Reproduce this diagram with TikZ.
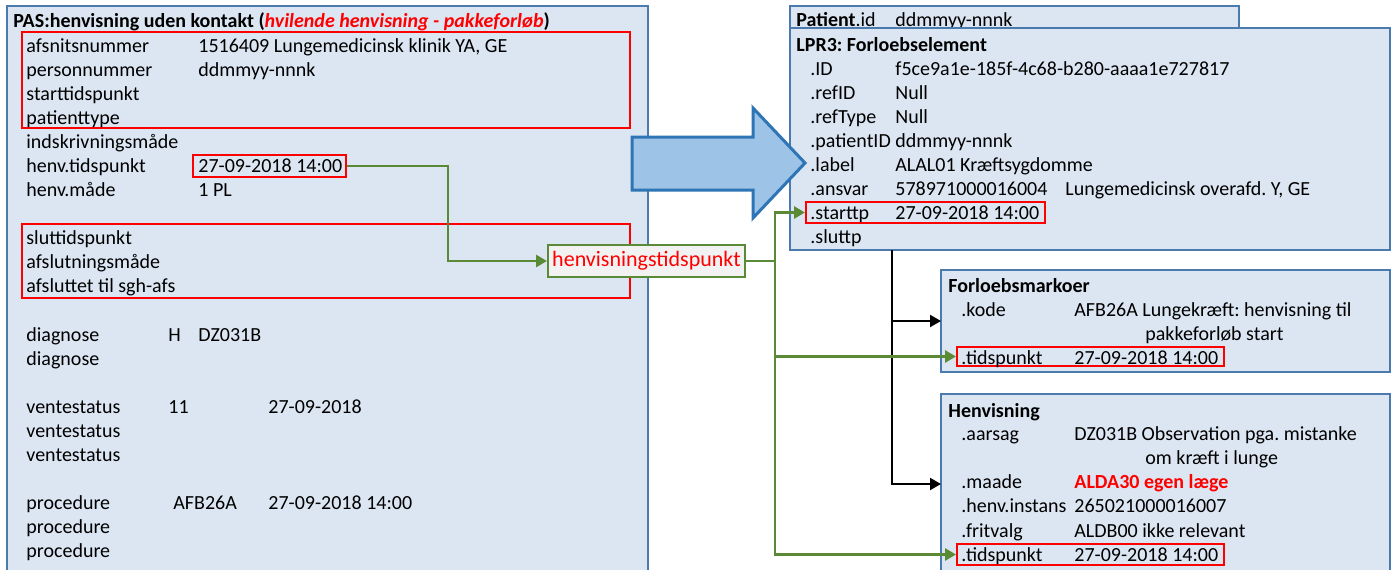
\documentclass[tikz,border=0pt]{standalone}
\usepackage{fontspec}
\setmainfont{Carlito}
\usetikzlibrary{arrows.meta,fit}
\definecolor{panelfill}{HTML}{DCE6F2}
\definecolor{panelline}{HTML}{4A7AAE}
\definecolor{hlred}{HTML}{FF0000}
\definecolor{linkgreen}{HTML}{5A8A35}
\definecolor{tagfill}{HTML}{F2F2F2}
\definecolor{bigfill}{HTML}{9DC3E6}
\definecolor{bigline}{HTML}{2E75B6}
\frenchspacing
\begin{document}
\begin{tikzpicture}[x=0.5pt,y=-0.5pt,
  panel/.style={draw=panelline,fill=panelfill,line width=1pt,inner sep=0pt},
  redbox/.style={draw=hlred,line width=1pt,inner sep=0pt},
  txt/.style={anchor=base west,inner sep=0pt,font=\fontsize{10}{12}\selectfont},
  tag/.style={draw=linkgreen,fill=tagfill,line width=1pt,inner sep=0pt,
    minimum width=98.5pt,minimum height=16pt,text=hlred,
    font=\fontsize{11}{13}\selectfont},
  grnline/.style={draw=linkgreen,line width=1.4pt},
  grnarrow/.style={grnline,-{Triangle[length=5.5pt,width=6pt]}},
  blkarrow/.style={draw=black,line width=1pt,-{Triangle[length=5.5pt,width=6pt]}},
  bigarrow/.style={draw=bigline,fill=bigfill,line width=1.5pt,line join=miter}
]
\useasboundingbox (0,0) rectangle (1397,569);
\clip (0,0) rectangle (1397,569);
\fill[white] (0,0) rectangle (1397,569);

% ---------- PAS panel ----------
\node[panel,fit={(7,6) (648,590)}] (pas) {};
\node[redbox,fit={(22,32) (630,128)}] (pasid) {};
\node[redbox,fit={(193,155) (346,177)}] (henvtp) {};
\node[redbox,fit={(22,224) (630,298)}] (passlut) {};

\node[txt] (pastitle) at (13,27) {\textbf{PAS:henvisning uden kontakt (}\textcolor{hlred}{\textbf{\textit{hvilende henvisning - pakkeforløb}}}\textbf{)}};
\node[txt] (l1) at (26,52) {afsnitsnummer};
\node[txt] (l2) at (26,76) {personnummer};
\node[txt] (l3) at (26,100) {starttidspunkt};
\node[txt] (l4) at (26,124) {patienttype};
\node[txt] (l5) at (26,148) {indskrivningsmåde};
\node[txt] (l6) at (26,172) {henv.tidspunkt};
\node[txt] (l7) at (26,196) {henv.måde};
\node[txt] (l8) at (26,244) {sluttidspunkt};
\node[txt] (l9) at (26,268) {afslutningsmåde};
\node[txt] (l10) at (26,292) {afsluttet til sgh-afs};
\node[txt] (l11) at (26,341) {diagnose};
\node[txt] (l12) at (26,365) {diagnose};
\node[txt] (l13) at (26,413) {ventestatus};
\node[txt] (l14) at (26,437) {ventestatus};
\node[txt] (l15) at (26,461) {ventestatus};
\node[txt] (l16) at (26,509) {procedure};
\node[txt] (l17) at (26,533) {procedure};
\node[txt] (l18) at (26,557) {procedure};

\node[txt] (v1) at (198,52) {1516409 Lungemedicinsk klinik YA, GE};
\node[txt] (v2) at (198,76) {ddmmyy-nnnk};
\node[txt] (v6) at (198,172) {27-09-2018 14:00};
\node[txt] (v7) at (198,196) {1 PL};
\node[txt] (v11a) at (168,341) {H};
\node[txt] (v11b) at (198,341) {DZ031B};
\node[txt] (v13a) at (168,413) {11};
\node[txt] (v13b) at (268,413) {27-09-2018};
\node[txt] (v16a) at (173,509) {AFB26A};
\node[txt] (v16b) at (268,509) {27-09-2018 14:00};

% ---------- LPR3 side ----------
\node[panel,fit={(790,6) (1239,40)}] (patient) {};
\node[txt] (patlbl) at (796,26) {\textbf{Patient}.id};
\node[txt] (patval) at (895,26) {ddmmyy-nnnk};

\node[panel,fit={(790,28) (1390,250)}] (lpr3) {};
\node[redbox,fit={(806,202) (1045,223)}] (starttp) {};
\node[txt] (lprtitle) at (796,51) {\textbf{LPR3: Forloebselement}};
\node[txt] (r1) at (810,75) {.ID};
\node[txt] (r2) at (810,99) {.refID};
\node[txt] (r3) at (810,123) {.refType};
\node[txt] (r4) at (810,147) {.patientID};
\node[txt] (r5) at (810,171) {.label};
\node[txt] (r6) at (810,195) {.ansvar};
\node[txt] (r7) at (810,219) {.starttp};
\node[txt] (r8) at (810,243) {.sluttp};
\node[txt] (w1) at (895,75) {f5ce9a1e-185f-4c68-b280-aaaa1e727817};
\node[txt] (w2) at (895,99) {Null};
\node[txt] (w3) at (895,123) {Null};
\node[txt] (w4) at (895,147) {ddmmyy-nnnk};
\node[txt] (w5) at (895,171) {ALAL01 Kræftsygdomme};
\node[txt] (w6a) at (895,195) {578971000016004};
\node[txt] (w6b) at (1065,195) {Lungemedicinsk overafd. Y, GE};
\node[txt] (w7) at (895,219) {27-09-2018 14:00};

% ---------- Forloebsmarkoer ----------
\node[panel,fit={(941,270) (1390,372)}] (fm) {};
\node[redbox,fit={(957,347) (1224,366)}] (fmtid) {};
\node[txt] (fmtitle) at (948,292) {\textbf{Forloebsmarkoer}};
\node[txt] (f1) at (961,316) {.kode};
\node[txt] (f1v) at (1074,316) {AFB26A Lungekræft: henvisning til};
\node[txt] (f1w) at (1145,340) {pakkeforløb start};
\node[txt] (f2) at (961,364) {.tidspunkt};
\node[txt] (f2v) at (1074,364) {27-09-2018 14:00};

% ---------- Henvisning ----------
\node[panel,fit={(941,394) (1390,590)}] (hv) {};
\node[redbox,fit={(957,544) (1224,565)}] (hvtid) {};
\node[txt] (hvtitle) at (948,417) {\textbf{Henvisning}};
\node[txt] (h1) at (961,440) {.aarsag};
\node[txt] (h1v) at (1074,440) {DZ031B Observation pga. mistanke};
\node[txt] (h1w) at (1145,464) {om kræft i lunge};
\node[txt] (h2) at (961,488) {.maade};
\node[txt] (h2v) at (1074,488) {\textcolor{hlred}{\textbf{ALDA30 egen læge}}};
\node[txt] (h3) at (961,512) {.henv.instans};
\node[txt] (h3v) at (1074,512) {265021000016007};
\node[txt] (h4) at (961,537) {.fritvalg};
\node[txt] (h4v) at (1074,537) {ALDB00 ikke relevant};
\node[txt] (h5) at (961,561) {.tidspunkt};
\node[txt] (h5v) at (1074,561) {27-09-2018 14:00};

% ---------- connectors ----------
\coordinate (bk) at (892,250);
\coordinate (fmin) at (941,321);
\coordinate (hvin) at (941,484);
\draw[blkarrow] (bk) |- (fmin);
\draw[blkarrow] (bk) |- (hvin);

\node[tag] (hvtp) at (646.5,261) {henvisningstidspunkt};
\draw[grnarrow] (henvtp.east) -| (448,261) -- (hvtp.west);
\coordinate (trunk) at (775,261);
\draw[grnline] (hvtp.east) -- (trunk);
\draw[grnarrow] (trunk) |- (starttp.west);
\draw[grnarrow] (trunk) |- (fmtid.west);
\draw[grnarrow] (trunk) |- (hvtid.west);

% ---------- block arrow PAS -> LPR3 ----------
\draw[bigarrow] (632,137) -- (753,137) -- (753,108) -- (805,163) -- (753,218) -- (753,190) -- (632,190) -- cycle;
\end{tikzpicture}
\end{document}
